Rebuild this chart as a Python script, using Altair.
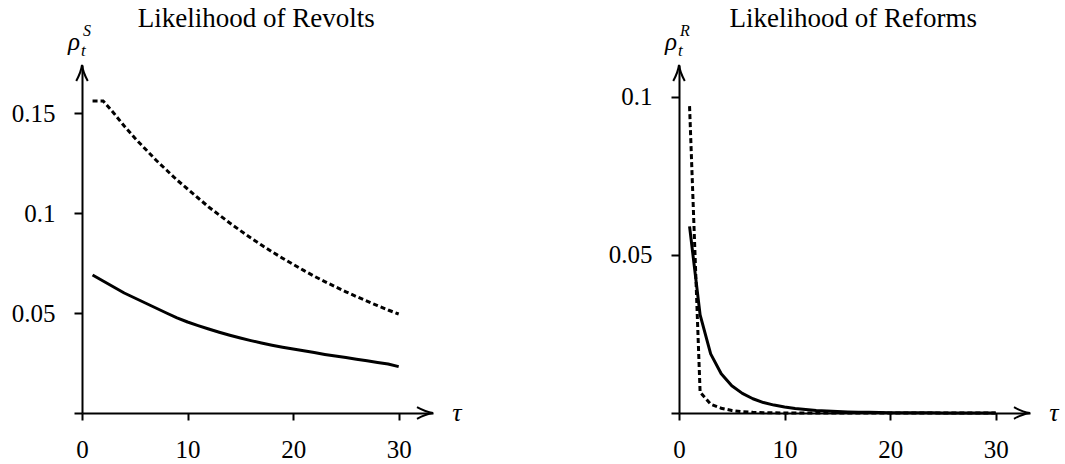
import altair as alt
import pandas as pd

# ---------------- data ----------------
tau = [1, 2, 3, 4, 5, 6, 7, 8, 9, 10,
       11, 12, 13, 14, 15, 16, 17, 18, 19, 20,
       21, 22, 23, 24, 25, 26, 27, 28, 29, 30]

revolt_solid = [0.0690, 0.0660, 0.0630, 0.0600, 0.0575, 0.0550, 0.0525, 0.0500, 0.0476, 0.0455,
                0.0437, 0.0420, 0.0404, 0.0389, 0.0375, 0.0362, 0.0350, 0.0339, 0.0329, 0.0320,
                0.0311, 0.0302, 0.0293, 0.0285, 0.0277, 0.0269, 0.0261, 0.0253, 0.0245, 0.0232]

revolt_dashed = [0.1560, 0.1560, 0.1500, 0.1435, 0.1375, 0.1320, 0.1265, 0.1215, 0.1165, 0.1120,
                 0.1075, 0.1030, 0.0990, 0.0950, 0.0912, 0.0875, 0.0840, 0.0806, 0.0774, 0.0743,
                 0.0713, 0.0684, 0.0657, 0.0631, 0.0606, 0.0582, 0.0559, 0.0537, 0.0515, 0.0495]

reform_solid = [0.0590, 0.0310, 0.0187, 0.0124, 0.0086, 0.0062, 0.0045, 0.0033, 0.0025, 0.0019,
                0.0014, 0.0011, 0.0008, 0.0006, 0.00045, 0.00035, 0.00027, 0.0002, 0.00015, 0.0001,
                0.00008, 0.00006, 0.00005, 0.00004, 0.00003, 0.00002, 0.00002, 0.00001, 0.00001, 0.00001]

reform_dashed = [0.0970, 0.0066, 0.0028, 0.0015, 0.0008, 0.0004, 0.0002, 0.0001, 0.00005, 0.00003,
                 0.00002, 0.00001, 0.0, 0.0, 0.0, 0.0, 0.0, 0.0, 0.0, 0.0,
                 0.0, 0.0, 0.0, 0.0, 0.0, 0.0, 0.0, 0.0, 0.0, 0.0]

x_ticks = [0, 10, 20, 30]
revolt_y_ticks = [0, 0.05, 0.1, 0.15]
reform_y_ticks = [0, 0.05, 0.1]

titles = ["Likelihood of Revolts", "Likelihood of Reforms"]
superscripts = ["S", "R"]

# ---------------- styling ----------------
FONT = "'Liberation Serif', 'DejaVu Serif', serif"
X_MAX = 33.25
ARROW = "M -1 -0.36 Q -0.45 -0.06 0 0 Q -0.45 0.06 -1 0.36"


def panel(title, sup, solid, dashed, y_max, y_ticks):
    xs = alt.Scale(domain=[0, X_MAX], nice=False, zero=False)
    ys = alt.Scale(domain=[0, y_max], nice=False, zero=False)
    common = dict(
        title=None, grid=False, domainWidth=2, domainColor="black",
        tickColor="black", tickWidth=2, labelFont=FONT, labelFontSize=25,
        labelColor="black", labelFlush=False, labelOverlap=False,
    )
    xaxis = alt.Axis(values=x_ticks, format="d", tickSize=7, labelPadding=17, **common)
    yaxis = alt.Axis(
        values=y_ticks, tickSize=8, labelPadding=19,
        labelExpr="datum.value == 0 ? '' : format(datum.value, '~g')", **common,
    )
    X = alt.X("tau:Q", scale=xs, axis=xaxis)
    Y = alt.Y("rho:Q", scale=ys, axis=yaxis)

    def text_layer(x_val, y_val, text, size, dx, dy, align, baseline, style="normal"):
        d = pd.DataFrame({"tau": [x_val], "rho": [y_val], "label": [text]})
        return alt.Chart(d).mark_text(
            font=FONT, fontSize=size, fontStyle=style, color="black",
            dx=dx, dy=dy, align=align, baseline=baseline,
        ).encode(X, Y, text="label:N")

    df = pd.DataFrame({"tau": tau, "solid": solid, "dashed": dashed})
    solid_layer = alt.Chart(df).mark_line(
        color="black", strokeWidth=3, strokeCap="butt", strokeJoin="round"
    ).encode(X, alt.Y("solid:Q", scale=ys, axis=yaxis))
    dashed_layer = alt.Chart(df).mark_line(
        color="black", strokeWidth=3, strokeCap="butt", strokeDash=[5, 3]
    ).encode(X, alt.Y("dashed:Q", scale=ys, axis=yaxis))

    tips = pd.DataFrame({"tau": [X_MAX, 0.0], "rho": [0.0, y_max], "ang": [0, 270]})
    arrows = alt.Chart(tips).mark_point(
        shape=ARROW, size=1024, filled=False, stroke="black", strokeWidth=2, opacity=1,
    ).encode(X, Y, angle=alt.Angle("ang:Q", scale=None))

    layers = [
        solid_layer, dashed_layer, arrows,
        text_layer(16.5, y_max, title, 27, 0, -38, "center", "alphabetic"),
        text_layer(X_MAX, 0.0, "τ", 26, 24, 0, "center", "middle", "italic"),
        text_layer(0.0, y_max, "ρ", 25, -2, -15, "right", "alphabetic", "italic"),
        text_layer(0.0, y_max, "t", 17, -1, -9, "left", "alphabetic", "italic"),
        text_layer(0.0, y_max, sup, 16, 1, -29, "left", "alphabetic", "italic"),
    ]
    return alt.layer(*layers).properties(width=351, height=348)


left = panel(titles[0], superscripts[0], revolt_solid, revolt_dashed, 0.174, revolt_y_ticks)
right = panel(titles[1], superscripts[1], reform_solid, reform_dashed, 0.11, reform_y_ticks)

chart = alt.hconcat(left, right, spacing=246, bounds="flush").properties(
    padding={"left": 11, "top": 5, "right": 5, "bottom": 5},
    background="white",
).configure_view(stroke=None)

chart.save("out.html", embed_options={"renderer": "svg", "actions": False})
